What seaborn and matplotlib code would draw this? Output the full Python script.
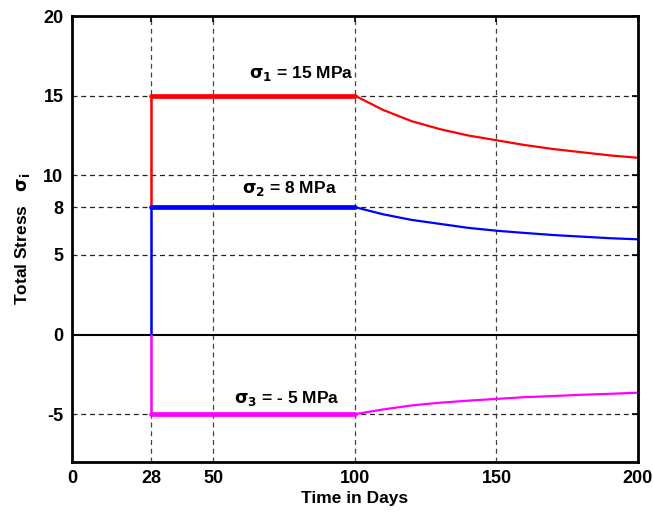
import matplotlib
matplotlib.use("Agg")
import matplotlib.pyplot as plt
import seaborn as sns
import pandas as pd

sns.set_style("white")
plt.rcParams['font.family'] = ['Liberation Sans', 'DejaVu Sans']
plt.rcParams['font.weight'] = 'bold'
plt.rcParams['text.color'] = 'black'
plt.rcParams['axes.labelcolor'] = 'black'
plt.rcParams['xtick.color'] = 'black'
plt.rcParams['ytick.color'] = 'black'

# step-up (vertical) segments at day 28
step_t = [28, 28]
step1 = [8, 15]
step2 = [0, 8]
step3 = [0, -5]

# constant load segment
flat_t = [28, 100]
flat1 = [15, 15]
flat2 = [8, 8]
flat3 = [-5, -5]

# relaxation after day 100
decay_t = [100, 110, 120, 130, 140, 150, 160, 170, 180, 190, 200]
decay1 = [15, 14.1, 13.4, 12.9, 12.5, 12.2, 11.9, 11.65, 11.45, 11.25, 11.1]
decay2 = [8, 7.55, 7.2, 6.95, 6.7, 6.52, 6.38, 6.25, 6.15, 6.05, 5.98]
decay3 = [-5, -4.7, -4.45, -4.28, -4.15, -4.04, -3.93, -3.86, -3.78, -3.72, -3.65]

xticks = [0, 28, 50, 100, 150, 200]
yticks = [-5, 0, 5, 8, 10, 15, 20]
colors = ['#ff0000', '#0000ff', '#ff00ff']
labels = [r'$\mathbf{\sigma_1}$ = 15 MPa', r'$\mathbf{\sigma_2}$ = 8 MPa', r'$\mathbf{\sigma_3}$ = - 5 MPa']
label_x = [81, 77, 76]
label_y = [16.4, 9.2, -4.0]

fig = plt.figure(figsize=(6.53, 5.12), dpi=100)
ax = fig.add_axes([0.110, 0.0977, 0.867, 0.871])

# grid
for x in [28, 50, 100, 150]:
    ax.axvline(x, color='#444444', ls=(0, (4, 3)), lw=0.9, zorder=0)
for y in [-5, 5, 8, 10, 15]:
    ax.axhline(y, color='#222222', ls=(0, (4, 3)), lw=0.9, zorder=0)
ax.axhline(0, color='black', lw=1.5, zorder=0)

for s, f, d, c in zip([step1, step2, step3], [flat1, flat2, flat3], [decay1, decay2, decay3], colors):
    sns.lineplot(x=step_t, y=s, color=c, lw=1.8, ax=ax, estimator=None, sort=False)
    sns.lineplot(x=flat_t, y=f, color=c, lw=3.4, ax=ax, estimator=None)
    sns.lineplot(x=decay_t, y=d, color=c, lw=1.6, ax=ax, estimator=None)

for lab, lx, ly in zip(labels, label_x, label_y):
    ax.text(lx, ly, lab, fontsize=12.5, fontweight='bold', ha='center', va='center', color='black')

ax.set_xlim(0, 200)
ax.set_ylim(-8, 20)
ax.set_xticks(xticks)
ax.set_yticks(yticks)
ax.set_xticklabels([str(v) for v in xticks], fontsize=13, fontweight='bold')
ax.set_yticklabels([str(v) for v in yticks], fontsize=13, fontweight='bold')
ax.tick_params(direction='in', top=True, right=True, length=4, width=1.2, pad=6)
for sp in ax.spines.values():
    sp.set_linewidth(2)
    sp.set_color('black')
ax.set_xlabel('Time in Days', fontsize=12.5, fontweight='bold', labelpad=3)
ax.set_ylabel(r'Total Stress   $\mathbf{\sigma_i}$', fontsize=12.5, fontweight='bold', labelpad=8)

fig.savefig('out.png', dpi=100)
